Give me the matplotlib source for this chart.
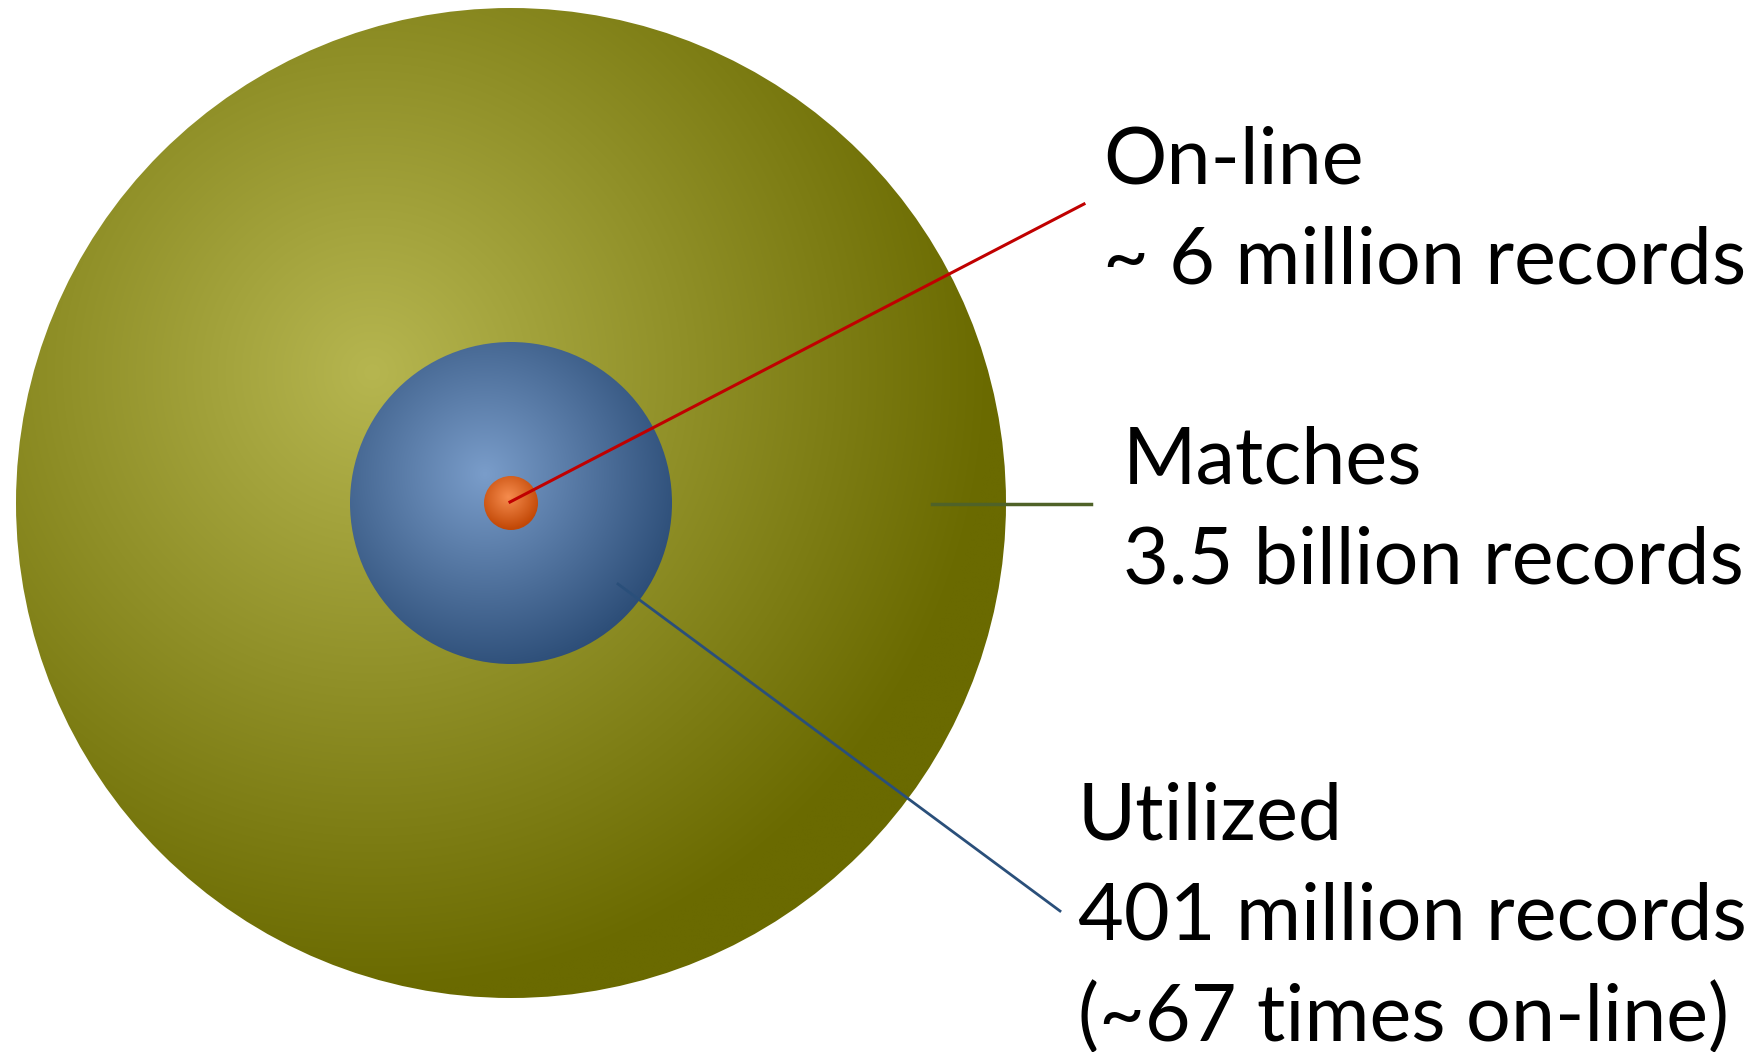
import numpy as np
import matplotlib
matplotlib.use('Agg')
import matplotlib.pyplot as plt
from matplotlib.patches import Circle
from matplotlib.colors import to_rgb

# data
titles = ['On-line', 'Matches', 'Utilized']
details = [['~ 6 million records'], ['3.5 billion records'],
           ['401 million records', '(~67 times on-line)']]
records_millions = [6, 3500, 401]

W, H = 1760, 1052
fig = plt.figure(figsize=(W / 100, H / 100), dpi=100)
ax = fig.add_axes([0, 0, 1, 1])
ax.set_xlim(0, W)
ax.set_ylim(H, 0)
ax.axis('off')

cx, cy = 511, 503


def shaded_disc(r, hx, hy, reach, c_light, c_dark, z):
    # radial gradient from a highlight point, clipped to the disc
    n = 400
    xs = np.linspace(cx - r, cx + r, n)
    ys = np.linspace(cy - r, cy + r, n)
    X, Y = np.meshgrid(xs, ys)
    t = np.clip(np.hypot(X - hx, Y - hy) / reach, 0, 1)[..., None]
    img = np.array(to_rgb(c_light)) * (1 - t) + np.array(to_rgb(c_dark)) * t
    im = ax.imshow(img, extent=(cx - r, cx + r, cy + r, cy - r),
                   interpolation='bilinear', zorder=z)
    circ = Circle((cx, cy), r, transform=ax.transData)
    im.set_clip_path(circ)


# circles: matches (outer), utilized (middle), on-line (core)
shaded_disc(495, 372, 372, 620, '#b6b650', '#6a6a00', 1)
shaded_disc(161, 485, 474, 200, '#7a9dca', '#2d4e78', 2)
shaded_disc(27, 508, 497, 32, '#f68c4e', '#c24806', 3)

# leader lines
ax.plot([510, 1084], [502, 204], color='#c00000', lw=2.2, zorder=4)
ax.plot([932, 1091], [504, 504], color='#4f6228', lw=2.5, zorder=4)
ax.plot([618, 1060], [584, 911], color='#2a4f7a', lw=2.0, zorder=4)

fs = 57
font = 'Lato'
step = 101
label_pos = [(1103, 183), (1123, 483), (1078, 839)]
for (x, y), t, d in zip(label_pos, titles, details):
    for i, s in enumerate([t] + d):
        ax.text(x, y + i * step, s, fontsize=fs, family=font,
                va='baseline', ha='left', color='black', zorder=5)

fig.savefig('out.png', dpi=100)
